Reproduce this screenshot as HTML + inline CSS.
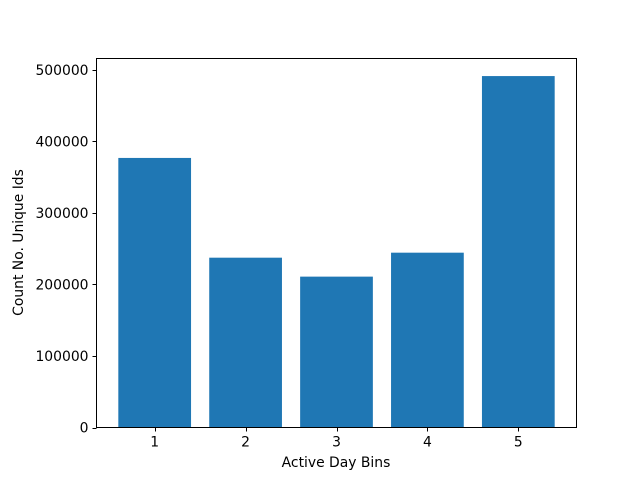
<!DOCTYPE html>
<html><head><meta charset="utf-8"><style>
body{margin:0;background:#fff}
text{font-family:"DejaVu Sans","Liberation Sans",sans-serif;font-size:13.9px;fill:#000}
</style></head><body>
<svg id="chart" width="640" height="480" xmlns="http://www.w3.org/2000/svg">
<rect width="640" height="480" fill="#fff"/>
<g id="bars"></g>
<g id="axes"></g>
<text x="336" y="467" text-anchor="middle">Active Day Bins</text>
<text transform="translate(23,242.5) rotate(-90)" text-anchor="middle">Count No. Unique Ids</text>
</svg>
<script>
const categories = [1, 2, 3, 4, 5];
const counts = [377000, 237500, 211000, 244500, 491500];
const yTicks = [0, 100000, 200000, 300000, 400000, 500000];
const L = 96.5, R = 576.5, T = 58.5, B = 427.5;
const xmin = 0.6 - 0.24, xmax = 5.4 + 0.24;
const ymax = Math.max(...counts) * 1.05;
const xs = v => L + (v - xmin) / (xmax - xmin) * (R - L);
const ys = v => B - v / ymax * (B - T);
const NS = "http://www.w3.org/2000/svg";
function mk(tag, attrs, parent){const e=document.createElementNS(NS,tag);for(const k in attrs)e.setAttribute(k,attrs[k]);parent.appendChild(e);return e;}
const bars = document.getElementById('bars'), axes = document.getElementById('axes');
categories.forEach((c,i)=>{
  const r = mk('rect',{x:xs(c-0.4),y:ys(counts[i]),width:xs(c+0.4)-xs(c-0.4),height:B-ys(counts[i]),fill:'#1f77b4'},bars);
  
  
  const px = Math.round(xs(c)) + 0.5;
  const t = mk('line',{x1:px,x2:px,y1:B,y2:B+4,stroke:'#000','stroke-width':1},axes);
  
  
  const lb = mk('text',{x:xs(c),y:B+19,'text-anchor':'middle'},axes);
  lb.textContent = c;
  
  
});
yTicks.forEach(v=>{
  const py = Math.round(ys(v)) + 0.5;
  const t = mk('line',{x1:L-4,x2:L,y1:py,y2:py,stroke:'#000','stroke-width':1},axes);
  
  
  const lb = mk('text',{x:L-8,y:ys(v)+5,'text-anchor':'end'},axes);
  lb.textContent = v;
  
  
});
const f = mk('rect',{x:L,y:T,width:R-L,height:B-T,fill:'none',stroke:'#000','stroke-width':1},axes);


</script>
</body></html>
